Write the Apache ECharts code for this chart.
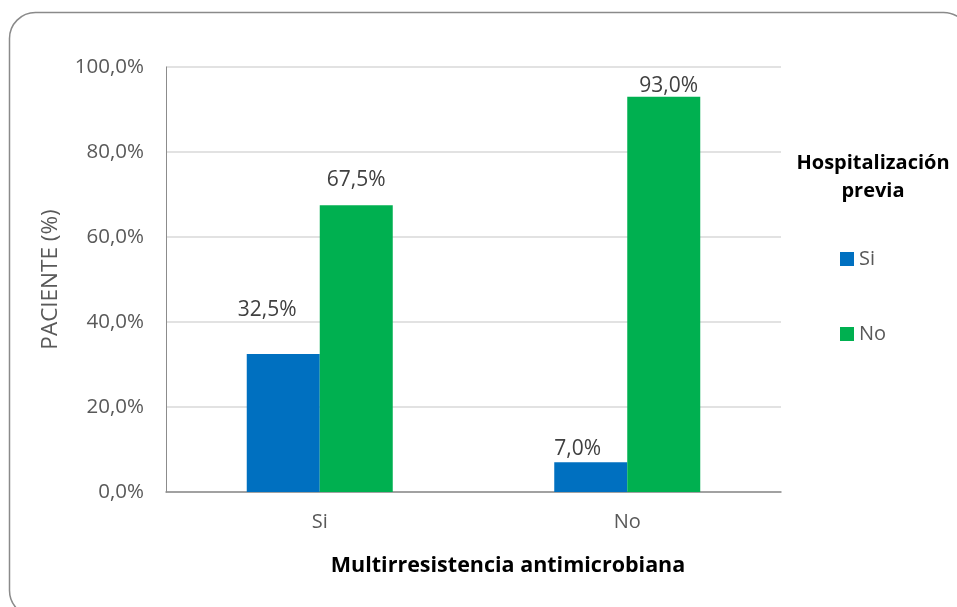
<!DOCTYPE html>
<html>
<head>
<meta charset="utf-8">
<script src="https://cdn.jsdelivr.net/npm/echarts@6/dist/echarts.min.js"></script>
<style>
  html, body { margin: 0; padding: 0; background: #fff; }
  #chart { width: 957px; height: 607px; }
</style>
</head>
<body>
<div id="chart"></div>
<script>
// Multirresistencia antimicrobiana vs. hospitalización previa (% de pacientes)
const categories = ['Si', 'No'];
const seriesNames = ['Si', 'No'];
const valuesSi = [32.5, 7.0];
const valuesNo = [67.5, 93.0];
const yTicks = [0, 20, 40, 60, 80, 100];

const FONT = '"Open Sans", "Liberation Sans", sans-serif';
const fmt = v => v.toFixed(1).replace('.', ',') + '%';

// per-bar label nudges (label placement inside the plot)
const labelNudge = {
  Si: [[-16, -28], [-13, 2]],
  No: [[0, -10], [5, 5]]
};

function barSeries(name, values, color) {
  return {
    name: name,
    type: 'bar',
    barWidth: 73,
    barGap: '0%',
    itemStyle: { color: color },
    data: values.map((v, i) => ({
      value: v,
      label: { offset: labelNudge[name][i] }
    })),
    label: {
      show: true,
      position: 'top',
      color: '#404040',
      fontFamily: FONT,
      fontSize: 21,
      formatter: p => fmt(p.value)
    }
  };
}

const legendText = { fontFamily: FONT, fontSize: 20, color: '#595959', padding: 0 };

const chart = echarts.init(document.getElementById('chart'), null, { renderer: 'canvas' });
chart.setOption({
  backgroundColor: '#ffffff',
  animation: false,
  graphic: [{
    type: 'rect',
    shape: { x: 9.5, y: 12.5, width: 960, height: 604, r: 26 },
    style: { fill: 'none', stroke: '#8a8a8a', lineWidth: 1.5 },
    silent: true
  }],
  title: [{
    text: 'Multirresistencia antimicrobiana',
    left: 503,
    top: 550,
    textAlign: 'center',
    textStyle: { fontFamily: FONT, fontSize: 21.5, fontWeight: 'bold', color: '#000000' }
  }, {
    text: 'Hospitalización\nprevia',
    left: 868,
    top: 144,
    textAlign: 'center',
    textStyle: { fontFamily: FONT, fontSize: 20, fontWeight: 'bold', color: '#000000', lineHeight: 28 }
  }],
  legend: [{
    data: [seriesNames[0]],
    left: 840, top: 249, padding: 0,
    itemWidth: 14, itemHeight: 14, itemGap: 5,
    icon: 'rect',
    textStyle: legendText
  }, {
    data: [seriesNames[1]],
    left: 840, top: 324, padding: 0,
    itemWidth: 14, itemHeight: 14, itemGap: 5,
    icon: 'rect',
    textStyle: legendText
  }],
  grid: { left: 166, right: 176, top: 67, bottom: 115, containLabel: false },
  xAxis: {
    type: 'category',
    data: categories,
    axisLine: { show: true, lineStyle: { color: '#8c8c8c', width: 1.5 } },
    axisTick: { show: false },
    axisLabel: { color: '#595959', fontFamily: FONT, fontSize: 20, margin: 20 }
  },
  yAxis: {
    type: 'value',
    min: yTicks[0],
    max: yTicks[yTicks.length - 1],
    interval: 20,
    name: 'PACIENTE (%)',
    nameLocation: 'middle',
    nameRotate: 90,
    nameGap: 104,
    nameTextStyle: { color: '#595959', fontFamily: FONT, fontSize: 22.5 },
    axisLine: { show: true, lineStyle: { color: '#8c8c8c', width: 1 } },
    axisTick: { show: false },
    splitLine: { show: true, lineStyle: { color: '#d9d9d9', width: 1.5 } },
    axisLabel: {
      color: '#595959', fontFamily: FONT, fontSize: 20.5, margin: 22,
      formatter: v => fmt(v)
    }
  },
  series: [
    barSeries(seriesNames[0], valuesSi, '#0070C0'),
    barSeries(seriesNames[1], valuesNo, '#00B050')
  ]
});
</script>
</body>
</html>
